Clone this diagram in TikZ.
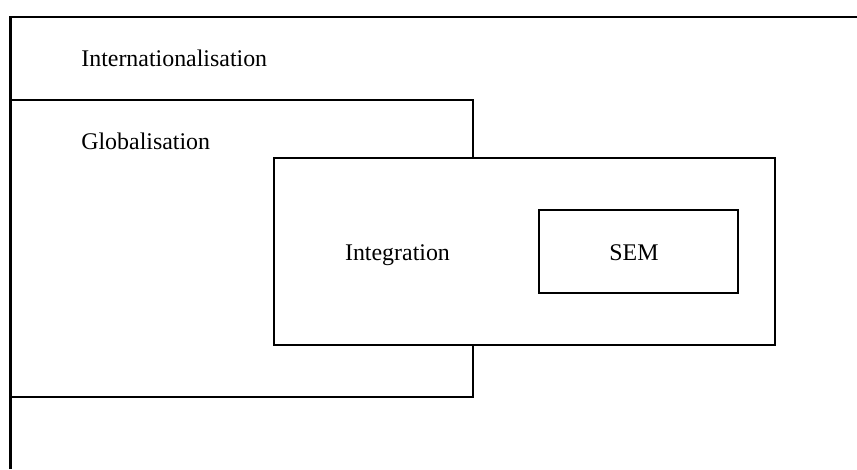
\documentclass[tikz,border=0pt]{standalone}
\usepackage{fontspec}
\setmainfont{Liberation Serif}
\usetikzlibrary{positioning}

\begin{document}
\begin{tikzpicture}[x=0.02cm, y=-0.02cm,
  box/.style={draw, line width=1.3pt, fill=white, inner sep=0pt},
  lbl/.style={font=\fontsize{13.6}{16}\selectfont, inner sep=0pt}]
\useasboundingbox (0,0) rectangle (857,469);
% outer frame (open to the right and below)
\coordinate (bl) at (10.5,469);
\coordinate (tl) at (10.5,17);
\coordinate (tr) at (857,17);
\draw[line width=1.3pt] (bl) -- (tl) -- (tr);
\node[box, minimum width=9.25cm, minimum height=5.94cm] (globbox) at (241.75,248.5) {};
\node[box, minimum width=10.02cm, minimum height=3.74cm] (integbox) at (524.5,251.5) {};
\node[box, minimum width=3.98cm, minimum height=1.66cm] (sembox) at (638.5,251.5) {};
\node[lbl, anchor=base west] (intl) at (81,67) {Internationalisation};
\node[lbl, anchor=base west] (glob) at (81,150) {Globalisation};
\node[lbl, anchor=base] (integ) at (397.5,260) {Integration};
\node[lbl, anchor=base] (sem) at (634,260) {SEM};
\end{tikzpicture}
\end{document}
